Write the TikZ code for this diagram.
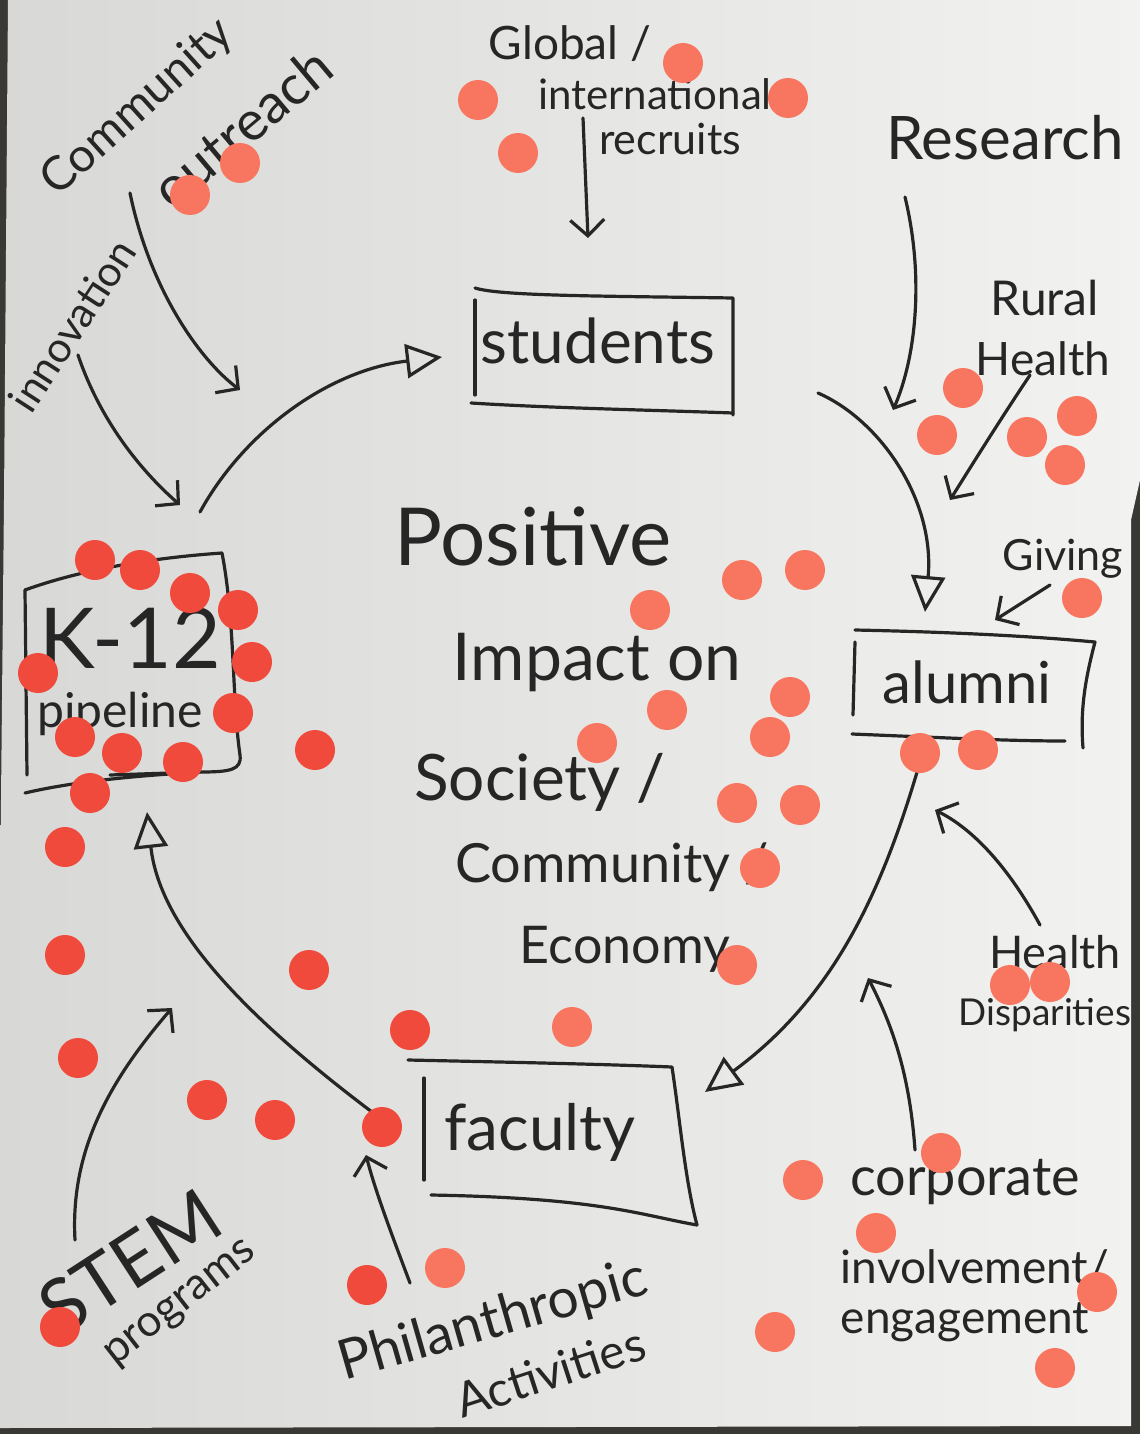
\documentclass[tikz,border=0pt]{standalone}
\usepackage{fontspec}
\setmainfont{Lato}
\usetikzlibrary{arrows.meta}
\definecolor{ink}{HTML}{262626}
\definecolor{dotA}{HTML}{F8765F}
\definecolor{dotB}{HTML}{EF4A3C}
\definecolor{paperL}{HTML}{D8D8D6}
\definecolor{paperR}{HTML}{F2F2F0}
\definecolor{bgdark}{HTML}{3A3835}
\begin{document}
\begin{tikzpicture}[x=1pt,y=-1pt,
  lbl/.style={text=ink, inner sep=0pt, font=\fontsize{#1}{#1}\selectfont},
  ln/.style={draw=ink, line width=3.2pt, line cap=round, line join=round},
  varr/.style={ln, -{Straight Barb[length=16pt,width=34pt]}},
  tarr/.style={ln, -{Triangle[open,length=36pt,width=34pt]}},
  dot/.style={circle, minimum size=40pt, inner sep=0pt, draw=none}]
\useasboundingbox (0,0) rectangle (1140,1434);
% background and paper
\fill[bgdark] (0,0) rectangle (1140,1434);
\shade[left color=paperL, right color=paperR] (8,0) -- (1140,0) -- (1140,480) -- (1131,520) -- (1131,1426) -- (0,1428) -- (0,900) -- (4,500) -- cycle;

% ---------- main labels ----------
\node[lbl=62, anchor=base] (students) at (598,363) {students};
\node[lbl=58, anchor=base] (alumni) at (967,703) {alumni};
\node[lbl=64, anchor=base] (faculty) at (540,1150) {faculty};
\node[lbl=84, anchor=base] (k12) at (130,668) {K-12};
\node[lbl=48, anchor=base] (pipeline) at (120,727) {pipeline};

\node[lbl=80, anchor=base] (positive) at (533,565) {Positive};
\node[lbl=66, anchor=base] (impact) at (597,680) {Impact on};
\node[lbl=64, anchor=base] (society) at (540,800) {Society /};
\node[lbl=54, anchor=base] (community) at (612,882) {Community /};
\node[lbl=52, anchor=base] (economy) at (625,963) {Economy};

\node[lbl=46, anchor=base] (global) at (570,60) {Global /};
\node[lbl=42, anchor=base] (intl) at (655,110) {international};
\node[lbl=43, anchor=base] (recruits) at (670,155) {recruits};
\node[lbl=60, anchor=base] (research) at (1005,160) {Research};
\node[lbl=48, anchor=base] (rural) at (1045,315) {Rural};
\node[lbl=46, anchor=base] (rhealth) at (1043,375) {Health};
\node[lbl=43, anchor=base] (giving) at (1063,570) {Giving};
\node[lbl=45, anchor=base] (dhealth) at (1055,968) {Health};
\node[lbl=37, anchor=base] (disp) at (1045,1025) {Disparities};
\node[lbl=54, anchor=base] (corporate) at (965,1195) {corporate};
\node[lbl=46, anchor=base] (involve) at (975,1283) {involvement/};
\node[lbl=46, anchor=base] (engage) at (965,1333) {engagement};

\node[lbl=47, rotate=42] (commun) at (138,108) {Community};
\node[lbl=55, rotate=40] (outreach) at (242,127) {outreach};
\node[lbl=42, rotate=57] (innov) at (72,325) {innovation};
\node[lbl=75, rotate=33] (stem) at (130,1262) {STEM};
\node[lbl=44, rotate=38] (programs) at (182,1305) {programs};
\node[lbl=55, rotate=16] (philan) at (493,1322) {Philanthropic};
\node[lbl=48, rotate=18] (activ) at (550,1372) {Activities};

% ---------- hand-drawn boxes ----------
\draw[ln] (475,288) .. controls (500,296) and (600,296) .. (733,298) -- (733,415);
\draw[ln] (475,300) -- (475,395);
\draw[ln] (471,403) .. controls (550,408) and (650,410) .. (733,413);
\draw[ln] (855,630) .. controls (950,632) and (1030,636) .. (1095,642) .. controls (1085,680) and (1080,710) .. (1083,748);
\draw[ln] (855,642) -- (853,715);
\draw[ln] (852,734) .. controls (950,738) and (1010,741) .. (1065,741);
\draw[ln] (25,590) .. controls (80,570) and (150,558) .. (222,553) .. controls (235,620) and (232,700) .. (240,755) .. controls (242,770) and (230,772) .. (200,772) -- (110,775);
\draw[ln] (25,590) -- (27,775);
\draw[ln] (25,793) .. controls (80,780) and (150,775) .. (200,772);
\draw[ln] (408,1060) .. controls (500,1062) and (600,1064) .. (672,1067) .. controls (680,1120) and (685,1180) .. (697,1225) .. controls (640,1215) and (600,1198) .. (431,1195);
\draw[ln] (424,1078) -- (424,1180);

% ---------- cycle arrows ----------
\coordinate (c1s) at (200,512); \coordinate (c1e) at (442,357);
\coordinate (c2s) at (818,393); \coordinate (c2e) at (925,612);
\coordinate (c3s) at (920,762); \coordinate (c3e) at (705,1092);
\coordinate (c4s) at (372,1112); \coordinate (c4e) at (147,812);
\draw[tarr] (c1s) .. controls (245,430) and (330,370) .. (c1e);
\draw[tarr] (c2s) .. controls (880,420) and (935,500) .. (c2e);
\draw[tarr] (c3s) .. controls (880,900) and (830,1000) .. (c3e);
\draw[tarr] (c4s) .. controls (250,1020) and (160,930) .. (c4e);

% ---------- side arrows ----------
\coordinate (a1s) at (130,193); \coordinate (a1e) at (240,390);
\coordinate (a2s) at (78,355);  \coordinate (a2e) at (180,505);
\coordinate (a3s) at (583,118); \coordinate (a3e) at (588,238);
\coordinate (a4s) at (905,197); \coordinate (a4e) at (893,410);
\coordinate (a5s) at (1030,375); \coordinate (a5e) at (950,500);
\coordinate (a6s) at (1050,585); \coordinate (a6e) at (995,620);
\coordinate (a7s) at (1040,925); \coordinate (a7e) at (935,810);
\coordinate (a8s) at (915,1150); \coordinate (a8e) at (868,978);
\coordinate (a9s) at (75,1240); \coordinate (a9e) at (172,1008);
\coordinate (a10s) at (410,1283); \coordinate (a10e) at (366,1155);
\draw[varr] (a1s) .. controls (150,290) and (200,360) .. (a1e);
\draw[varr] (a2s) .. controls (100,420) and (140,470) .. (a2e);
\draw[varr] (a3s) -- (a3e);
\draw[varr] (a4s) .. controls (925,280) and (915,360) .. (a4e);
\draw[varr] (a5s) .. controls (1000,420) and (975,460) .. (a5e);
\draw[varr] (a6s) -- (a6e);
\draw[varr] (a7s) .. controls (1010,870) and (975,830) .. (a7e);
\draw[varr] (a8s) .. controls (910,1080) and (895,1030) .. (a8e);
\draw[varr] (a9s) .. controls (70,1150) and (110,1080) .. (a9e);
\draw[varr] (a10s) .. controls (390,1230) and (375,1190) .. (a10e);

% ---------- sticky dots ----------
\foreach \n/\x/\y/\c in {
 1/683/63/dotA, 2/478/100/dotA, 3/788/98/dotA, 4/518/153/dotA, 5/240/163/dotA, 6/190/195/dotA,
 7/963/388/dotA, 8/1077/416/dotA, 9/937/435/dotA, 10/1027/437/dotA, 11/1065/465/dotA, 12/1082/598/dotA,
 13/805/570/dotA, 14/742/580/dotA, 15/650/610/dotA, 16/790/697/dotA, 17/667/710/dotA, 18/770/737/dotA,
 19/597/743/dotA, 20/737/803/dotA, 21/800/805/dotA, 22/760/868/dotA, 23/737/965/dotA,
 24/920/753/dotA, 25/978/750/dotA, 26/1010/985/dotA, 27/1050/982/dotA,
 28/95/560/dotB, 29/140/570/dotB, 30/190/593/dotB, 31/238/610/dotB, 32/252/662/dotB, 33/38/673/dotB,
 34/233/713/dotB, 35/75/737/dotB, 36/122/753/dotB, 37/183/762/dotB, 38/90/793/dotB, 39/65/847/dotB,
 40/315/750/dotB, 41/65/955/dotB, 42/309/970/dotB, 43/78/1058/dotB, 44/410/1030/dotB, 45/572/1027/dotA,
 46/207/1100/dotB, 47/275/1120/dotB, 48/382/1127/dotB, 49/60/1327/dotB, 50/367/1285/dotB, 51/445/1268/dotA,
 52/941/1153/dotA, 53/803/1180/dotA, 54/876/1233/dotA, 55/1097/1292/dotA, 56/775/1332/dotA, 57/1055/1368/dotA}
 { \node[dot, fill=\c] (d\n) at (\x,\y) {}; }
\end{tikzpicture}
\end{document}
